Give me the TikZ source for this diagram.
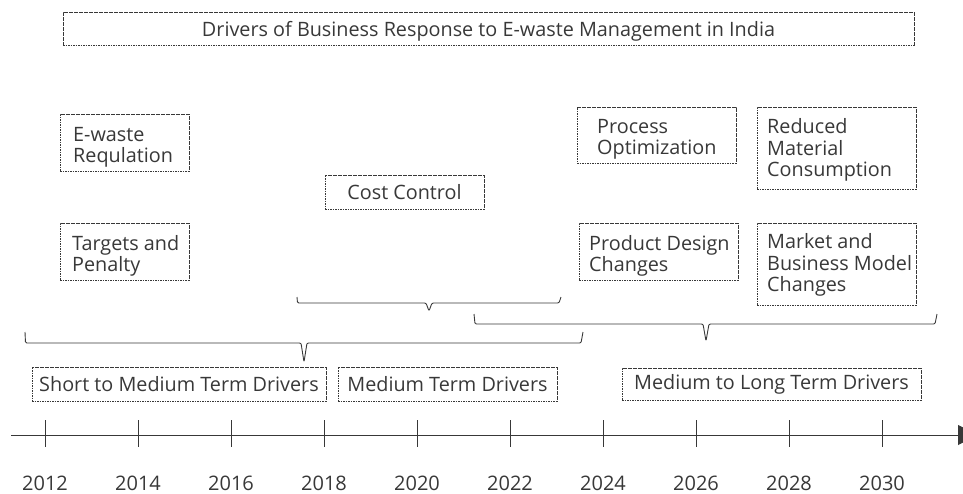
\documentclass[tikz,border=0pt]{standalone}
\usepackage{fontspec}
\setmainfont{Open Sans}
\usetikzlibrary{arrows.meta}
\definecolor{ink}{HTML}{383838}
\begin{document}
\begin{tikzpicture}[x=1pt,y=-1pt,
  every node/.style={text=ink, font=\fontsize{19.8}{21.3}\selectfont},
  frame/.style={draw=ink, line width=0.7pt, dash pattern=on 1.6pt off 0.9pt,
                inner sep=0pt, outer sep=0pt},
  % empty dotted box of given width and height
  fbox/.style 2 args={frame, minimum width=#1, minimum height=#2},
  % left-aligned lines inside a box
  ftext/.style={inner sep=0pt, anchor=west, align=left},
  cbox/.style 2 args={frame, minimum width=#1, minimum height=#2, align=center},
  brace/.style={draw=ink, line width=0.9pt, line join=round, rounded corners=1.2pt},
  tick/.style={draw=ink, line width=0.8pt},
  year/.style={font=\fontsize{20}{21}\selectfont, anchor=base}
]
\useasboundingbox (0,0) rectangle (963,493);
\clip (0,0) rectangle (963,493);

% heading
\node[cbox={851}{33}, text depth=0pt] (title) at (488.5,28.5)
  {Drivers of Business Response to E-waste Management in India};

% drivers
\node[fbox={129}{57}] (regulation) at (124.5,142.5) {};
\node[ftext] (regulation-t) at (73,147) {E-waste\\Requlation};
\node[fbox={129}{57}] (targets) at (124.5,251.5) {};
\node[ftext] (targets-t) at (72,256) {Targets and\\Penalty};
\node[cbox={159}{34}] (cost) at (404.5,192) {Cost Control};
\node[fbox={159}{56}] (process) at (656.5,135) {};
\node[ftext] (process-t) at (597,139) {Process\\Optimization};
\node[fbox={159}{82}] (reduced) at (836.5,148) {};
\node[ftext] (reduced-t) at (767,150) {Reduced\\Material\\Consumption};
\node[fbox={159}{57}] (design) at (658.5,251.5) {};
\node[ftext] (design-t) at (589,256) {Product Design\\Changes};
\node[fbox={159}{82}] (market) at (836.5,264) {};
\node[ftext] (market-t) at (767,265) {Market and\\Business Model\\Changes};

% braces grouping the drivers
\draw[brace] (297,297) -- (297.5,303) -- (426,303) -- (429,311) -- (432,303) -- (559,303) -- (561,297);
\draw[brace] (474,314) -- (475,324) -- (703,324) -- (706,341) -- (709,324) -- (935,324) -- (937,314);
\draw[brace] (25,332) -- (25.5,343) -- (301,343) -- (304,362) -- (307,343) -- (581,343) -- (583,332);

% horizons
\node[cbox={294}{34}] (short) at (179,384) {Short to Medium Term Drivers};
\node[cbox={219}{34}] (medium) at (447.5,384) {Medium Term Drivers};
\node[cbox={299}{32}] (long) at (771.5,384) {Medium to Long Term Drivers};

% time axis (its arrow tip runs past the right edge)
\coordinate (axisstart) at (11,435);
\coordinate (axisend) at (978,435);
\draw[ink, line width=0.9pt, -{Triangle[length=20pt,width=20pt]}] (axisstart) -- (axisend);
\foreach \i in {0,...,9}{
  \pgfmathtruncatemacro{\yr}{2012+2*\i}
  \draw[tick] (45+93*\i,420) -- (45+93*\i,447);
  \node[year] (y\yr) at (45+93*\i,490) {\yr};
}
\end{tikzpicture}
\end{document}
